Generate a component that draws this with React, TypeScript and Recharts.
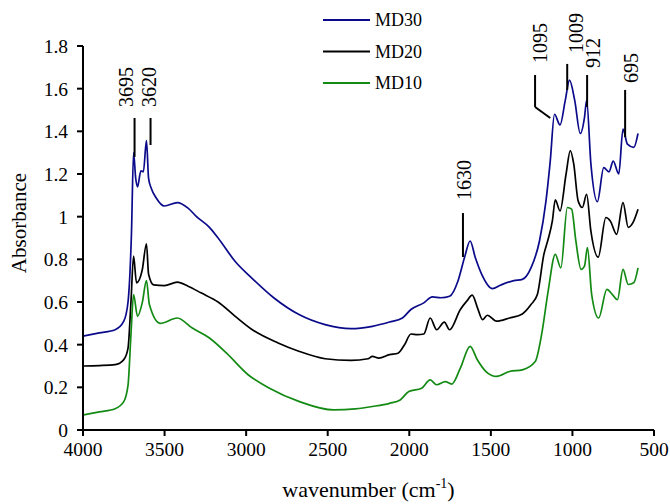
import React from "react";
import {
	Legend,
	Line,
	LineChart,
	ReferenceDot,
	ReferenceLine,
	XAxis,
	YAxis,
} from "recharts";

// [wavenumber, absorbance]
const md30: number[][] = [
	[4000, 0.44], [3900, 0.455], [3803, 0.47], [3750, 0.51], [3724, 0.6], [3703, 0.92],
	[3690, 1.3], [3677, 1.18], [3666, 1.14], [3645, 1.215], [3630, 1.21], [3611, 1.356],
	[3598, 1.18], [3580, 1.13], [3553, 1.09], [3501, 1.05], [3422, 1.066], [3356, 1.04],
	[3304, 1.0], [3225, 0.95], [3172, 0.9], [3067, 0.79], [2962, 0.71], [2831, 0.62],
	[2673, 0.54], [2516, 0.494], [2358, 0.475], [2226, 0.486], [2121, 0.506], [2042, 0.525],
	[1990, 0.565], [1911, 0.596], [1859, 0.624], [1806, 0.62], [1753, 0.627], [1701, 0.7],
	[1661, 0.81], [1627, 0.886], [1596, 0.81], [1556, 0.73], [1491, 0.663], [1438, 0.68],
	[1359, 0.7], [1307, 0.706], [1254, 0.76], [1202, 0.886], [1162, 1.074], [1136, 1.26],
	[1110, 1.48], [1076, 1.43], [1044, 1.545], [1018, 1.64], [986, 1.545], [952, 1.39],
	[926, 1.466], [913, 1.545], [887, 1.25], [847, 1.07], [808, 1.23], [776, 1.21],
	[750, 1.26], [716, 1.2], [690, 1.41], [663, 1.34], [624, 1.325], [598, 1.39],
];

const md20: number[][] = [
	[4000, 0.3], [3900, 0.302], [3803, 0.306], [3750, 0.33], [3724, 0.384], [3706, 0.6],
	[3690, 0.815], [3672, 0.69], [3637, 0.75], [3611, 0.873], [3598, 0.73], [3567, 0.68],
	[3501, 0.677], [3422, 0.693], [3356, 0.674], [3277, 0.643], [3172, 0.6], [3067, 0.533],
	[2962, 0.47], [2804, 0.408], [2673, 0.368], [2516, 0.334], [2358, 0.326], [2253, 0.334],
	[2226, 0.345], [2187, 0.337], [2121, 0.353], [2069, 0.36], [2029, 0.4], [1990, 0.45],
	[1950, 0.447], [1911, 0.45], [1872, 0.525], [1832, 0.47], [1785, 0.506], [1753, 0.47],
	[1687, 0.565], [1648, 0.604], [1614, 0.632], [1583, 0.575], [1551, 0.517], [1522, 0.538],
	[1465, 0.51], [1386, 0.525], [1307, 0.544], [1254, 0.588], [1215, 0.635], [1175, 0.823],
	[1149, 0.894], [1123, 0.98], [1105, 1.079], [1076, 1.027], [1039, 1.2], [1013, 1.31],
	[992, 1.247], [965, 1.074], [939, 1.043], [913, 1.105], [887, 0.933], [842, 0.81],
	[795, 0.996], [768, 0.98], [729, 0.917], [690, 1.066], [658, 0.95], [629, 0.972],
	[598, 1.035],
];

const md10: number[][] = [
	[4000, 0.07], [3900, 0.085], [3803, 0.1], [3750, 0.133], [3724, 0.21], [3706, 0.447],
	[3690, 0.635], [3666, 0.533], [3637, 0.596], [3611, 0.7], [3593, 0.588], [3527, 0.5],
	[3422, 0.525], [3330, 0.478], [3225, 0.431], [3120, 0.36], [2988, 0.259], [2857, 0.196],
	[2673, 0.133], [2463, 0.094], [2331, 0.099], [2226, 0.11], [2121, 0.125], [2056, 0.141],
	[2003, 0.18], [1924, 0.196], [1872, 0.235], [1832, 0.212], [1780, 0.227], [1740, 0.215],
	[1687, 0.29], [1627, 0.392], [1583, 0.329], [1530, 0.274], [1465, 0.251], [1386, 0.274],
	[1307, 0.282], [1228, 0.321], [1189, 0.447], [1149, 0.65], [1105, 0.823], [1071, 0.76],
	[1031, 1.043], [1005, 1.035], [979, 0.886], [947, 0.753], [926, 0.768], [908, 0.855],
	[882, 0.635], [839, 0.525], [789, 0.659], [755, 0.635], [724, 0.611], [690, 0.753],
	[658, 0.682], [624, 0.69], [598, 0.76],
];

const seriesNames = ["MD30", "MD20", "MD10"];
const seriesColors = ["#0a0a8a", "#000000", "#138a13"];

const xTicks = [4000, 3500, 3000, 2500, 2000, 1500, 1000, 500];
const yTicks = [0, 0.2, 0.4, 0.6, 0.8, 1, 1.2, 1.4, 1.6, 1.8];

// peak labels: text, x, y of the text foot
const peakLabels: [string, number, number][] = [
	["3695", 3739, 1.514],
	["3620", 3598, 1.514],
	["1630", 1665, 1.078],
	["1095", 1198, 1.72],
	["1009", 977, 1.767],
	["912", 873, 1.697],
	["695", 640, 1.627],
];

// leader lines: x1, y1, x2, y2
const leaders: number[][] = [
	[3684, 1.28, 3684, 1.4625],
	[3586, 1.336, 3586, 1.4625],
	[1671, 0.811, 1671, 1.017],
	[1229, 1.514, 1229, 1.664],
	[1229, 1.514, 1136, 1.4625],
	[1032, 1.594, 1032, 1.716],
	[910, 1.514, 910, 1.664],
	[677, 1.373, 677, 1.594],
];

const toPoints = (arr: number[][]) => arr.map(([x, y]) => ({ x, y }));
const allSeries = [md30, md20, md10].map(toPoints);

const FONT = "Liberation Serif, Times New Roman, serif";

const renderLegend = () => (
	<svg width={670} height={100}>
		{seriesNames.map((name, i) => (
			<g key={name}>
				<line
					x1={323}
					x2={370}
					y1={20 + i * 31.5}
					y2={20 + i * 31.5}
					stroke={seriesColors[i]}
					strokeWidth={2}
				/>
				<text
					x={375}
					y={20 + i * 31.5}
					dy="0.35em"
					fontSize={18}
					fontFamily={FONT}
					fill="#000"
				>
					{name}
				</text>
			</g>
		))}
	</svg>
);

const XTitle = (props: any) => {
	const { viewBox } = props;
	const cx = viewBox.x + viewBox.width / 2;
	return (
		<text x={cx} y={viewBox.y + 67} textAnchor="middle" fontSize={22} fontFamily={FONT} fill="#000">
			wavenumber (cm
			<tspan dy={-9} fontSize={14}>-1</tspan>
			<tspan dy={9}>)</tspan>
		</text>
	);
};

const YTitle = (props: any) => {
	const { viewBox } = props;
	const cy = viewBox.y + viewBox.height / 2 - 15;
	return (
		<text
			x={19}
			y={cy}
			dy="0.35em"
			textAnchor="middle"
			transform={`rotate(-90 19 ${cy})`}
			fontSize={21}
			fontFamily={FONT}
			fill="#000"
		>
			Absorbance
		</text>
	);
};

const PeakText = (label: string) => (p: any) => (
	<text
		x={p.cx}
		y={p.cy}
		dy="0.35em"
		transform={`rotate(-90 ${p.cx} ${p.cy})`}
		fontSize={20}
		fontFamily={FONT}
		fill="#000"
	>
		{label}
	</text>
);

export default function App() {
	return (
		<div style={{ position: "absolute", left: 0, top: 0, background: "#fff" }}>
			<LineChart
				width={670}
				height={504}
				margin={{ top: 46, right: 16, bottom: 0, left: 0 }}
				style={{ fontFamily: FONT }}
			>
				<XAxis
					dataKey="x"
					type="number"
					domain={[500, 4000]}
					reversed
					ticks={xTicks}
					interval={0}
					height={74}
					stroke="#000"
					strokeWidth={2}
					tickSize={6}
					tickMargin={6}
					tick={{ fill: "#000", fontSize: 19.5, fontFamily: FONT }}
					label={<XTitle />}
				/>
				<YAxis
					type="number"
					domain={[0, 1.8]}
					ticks={yTicks}
					interval={0}
					width={83}
					stroke="#000"
					strokeWidth={2}
					tickSize={6}
					tickMargin={9}
					tick={{ fill: "#000", fontSize: 19.5, fontFamily: FONT }}
					label={<YTitle />}
				/>
				<Legend
					layout="vertical"
					align="center"
					verticalAlign="middle"
					wrapperStyle={{ top: 0, left: 0, width: 670, height: 100 }}
					content={renderLegend}
				/>
				{allSeries.map((data, i) => (
					<Line
						key={seriesNames[i]}
						data={data}
						dataKey="y"
						name={seriesNames[i]}
						type="monotone"
						stroke={seriesColors[i]}
						strokeWidth={1.7}
						dot={false}
						activeDot={false}
						isAnimationActive={false}
					/>
				))}
				{leaders.map(([x1, y1, x2, y2], i) => (
					<ReferenceLine
						key={"l" + i}
						segment={[
							{ x: x1, y: y1 },
							{ x: x2, y: y2 },
						]}
						stroke="#000"
						strokeWidth={2}
						ifOverflow="visible"
					/>
				))}
				{peakLabels.map(([label, x, y]) => (
					<ReferenceDot
						key={"p" + label}
						x={x}
						y={y}
						r={0}
						ifOverflow="visible"
						shape={PeakText(label)}
					/>
				))}
			</LineChart>
		</div>
	);
}
